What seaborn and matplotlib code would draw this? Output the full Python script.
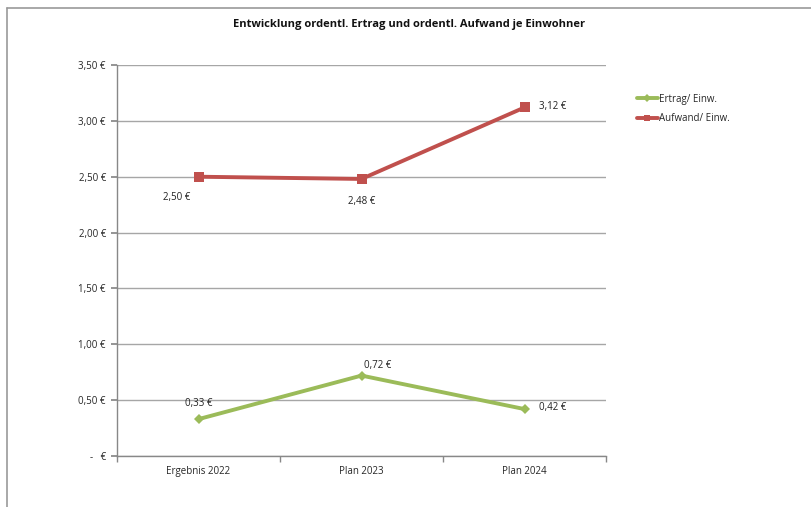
import matplotlib
matplotlib.use("Agg")
import matplotlib.pyplot as plt
import seaborn as sns
import pandas as pd
from matplotlib.lines import Line2D
from matplotlib.ticker import FuncFormatter, MultipleLocator

categories = ["Ergebnis 2022", "Plan 2023", "Plan 2024"]
ertrag = [0.33, 0.72, 0.42]
aufwand = [2.50, 2.48, 3.12]
series_names = ["Ertrag/ Einw.", "Aufwand/ Einw."]
title = "Entwicklung ordentl. Ertrag und ordentl. Aufwand je Einwohner"

sns.set_theme(style="white")
plt.rcParams["font.family"] = ["Open Sans", "DejaVu Sans"]

df = pd.DataFrame({
    "cat": categories * 2,
    "x": list(range(len(categories))) * 2,
    "val": ertrag + aufwand,
    "series": [series_names[0]] * 3 + [series_names[1]] * 3,
})

green = "#9BBB59"
red = "#C0504D"

fig = plt.figure(figsize=(8.11, 5.07), dpi=100)
ax = fig.add_axes([117 / 811, 1 - 456 / 507, (606 - 117) / 811, (456 - 65) / 507])

sns.lineplot(data=df, x="x", y="val", hue="series", style="series",
             palette={series_names[0]: green, series_names[1]: red},
             markers={series_names[0]: "D", series_names[1]: "s"},
             dashes=False, linewidth=2.8, markersize=6.5, markeredgewidth=0,
             legend=False, ax=ax, zorder=3)
# slightly smaller diamonds
for ln in ax.get_lines():
    if ln.get_marker() == "D":
        ln.set_markersize(5.5)

ax.set_xlim(-0.5, 2.5)
ax.set_ylim(0, 3.5)
ax.yaxis.set_major_locator(MultipleLocator(0.5))


def fmt(v, pos=None):
    if abs(v) < 1e-9:
        return "-   €"
    return f"{v:.2f} €".replace(".", ",")


ax.yaxis.set_major_formatter(FuncFormatter(fmt))
ax.set_xticks(range(len(categories)))
ax.set_xticklabels(categories)
ax.set_xlabel("")
ax.set_ylabel("")
ax.grid(axis="y", color="#a6a6a6", linewidth=1)
ax.set_axisbelow(True)

for s in ["top", "right"]:
    ax.spines[s].set_visible(False)
for s in ["left", "bottom"]:
    ax.spines[s].set_color("#888888")
    ax.spines[s].set_linewidth(1)

ax.tick_params(axis="y", which="major", length=4, color="#888888", labelsize=7, pad=4, left=True)
ax.tick_params(axis="x", which="major", length=0, labelsize=7, pad=7)
ax.set_xticks([-0.5, 0.5, 1.5, 2.5], minor=True)
ax.tick_params(axis="x", which="minor", length=4, color="#888888", bottom=True)

# data labels
aufwand_offsets = [(-16, -15), (0, -16), (20, 1)]
ertrag_offsets = [(0, 11), (12, 7), (20, 1)]
for i, v in enumerate(aufwand):
    ax.annotate(fmt(v), (i, v), xytext=aufwand_offsets[i], textcoords="offset points",
                ha="center", va="center", fontsize=7, color="#222222")
for i, v in enumerate(ertrag):
    ax.annotate(fmt(v), (i, v), xytext=ertrag_offsets[i], textcoords="offset points",
                ha="center", va="center", fontsize=7, color="#222222")

handles = [
    Line2D([0], [0], color=green, lw=2.8, marker="D", markersize=4, markeredgewidth=0),
    Line2D([0], [0], color=red, lw=2.8, marker="s", markersize=5, markeredgewidth=0),
]
fig.legend(handles, series_names, loc="upper left", bbox_to_anchor=(628 / 811, 1 - 85 / 507),
           frameon=False, fontsize=7, handlelength=2.2, handletextpad=0.1, labelspacing=0.9)

fig.text(0.505, 1 - 25 / 507, title, ha="center", va="center", fontsize=8, fontweight="bold",
         color="#111111")

# outer chart border (top and left)
fig.add_artist(Line2D([7 / 811, 1], [1 - 8 / 507, 1 - 8 / 507], transform=fig.transFigure,
                      color="#999999", lw=1.2))
fig.add_artist(Line2D([7 / 811, 7 / 811], [0, 1 - 8 / 507], transform=fig.transFigure,
                      color="#999999", lw=1.2))

fig.savefig("out.png", dpi=100)
